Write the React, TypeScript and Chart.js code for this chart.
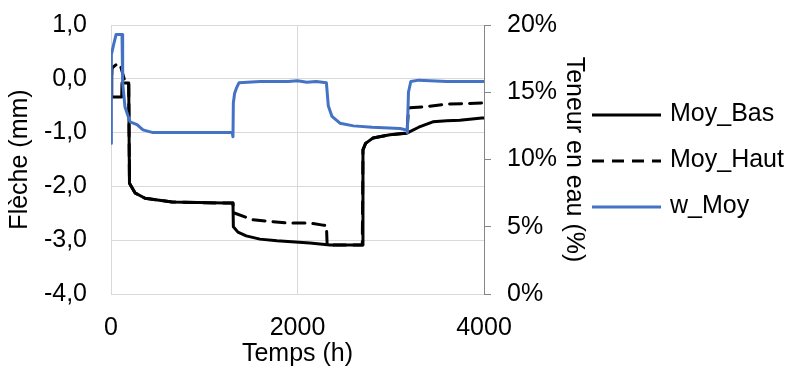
import React, { useEffect, useRef } from 'react';
import { Chart, registerables } from 'chart.js';
Chart.register(...registerables);

// ---- data ----
const seriesNames = ['Moy_Bas', 'Moy_Haut', 'w_Moy'];

const basT = [0, 8, 115, 118, 190, 196, 198, 257, 365, 654, 1222, 1308, 1312, 1361, 1450, 1597, 1780, 2133, 2348, 2500, 2695, 2702, 2730, 2810, 2991, 3173, 3300, 3452, 3600, 3741, 3977, 4000];
const basV = [0.2, -0.34, -0.34, -0.08, -0.08, -1.5, -1.94, -2.12, -2.22, -2.29, -2.31, -2.31, -2.75, -2.85, -2.92, -2.98, -3.01, -3.05, -3.09, -3.09, -3.09, -1.32, -1.2, -1.1, -1.04, -1.01, -0.9, -0.8, -0.78, -0.77, -0.73, -0.73];

const hautT = [0, 10, 60, 95, 120, 150, 190, 196, 198, 257, 365, 654, 1222, 1308, 1315, 1522, 1887, 2133, 2273, 2310, 2318, 2500, 2695, 2702, 2730, 2810, 2991, 3173, 3190, 3205, 3366, 3602, 4000];
const hautV = [-0.3, 0.2, 0.27, 0.28, 0.13, -0.05, -0.08, -1.5, -1.94, -2.12, -2.22, -2.29, -2.31, -2.31, -2.49, -2.62, -2.68, -2.68, -2.72, -2.72, -3.09, -3.09, -3.09, -1.32, -1.2, -1.1, -1.04, -1.01, -0.58, -0.54, -0.52, -0.47, -0.45];

const wT = [0, 4, 30, 55, 118, 125, 150, 204, 279, 343, 450, 1000, 1300, 1308, 1312, 1325, 1345, 1372, 1600, 1900, 2000, 2100, 2200, 2310, 2330, 2370, 2455, 2600, 2800, 3100, 3170, 3178, 3190, 3215, 3300, 3600, 4000];
const wV = [11.2, 17.8, 18.6, 19.3, 19.3, 15.7, 13.9, 12.8, 12.6, 12.2, 12.0, 12.0, 12.0, 11.7, 14.2, 14.9, 15.3, 15.7, 15.8, 15.8, 15.85, 15.75, 15.8, 15.7, 14.0, 13.2, 12.7, 12.5, 12.4, 12.3, 12.2, 12.0, 15.0, 15.8, 15.9, 15.8, 15.8];

const xTicks = [0, 2000, 4000];
const leftTicks = [-4, -3, -2, -1, 0, 1];
const rightTicks = [0, 5, 10, 15, 20];

const xTitle = 'Temps (h)';
const leftTitle = 'Flèche (mm)';
const rightTitle = 'Teneur en eau (%)';

const FONT = "'Liberation Sans', Arial, sans-serif";
const FS = 25;

const zip = (t: number[], v: number[]) => t.map((x, i) => ({ x, y: v[i] }));

const legendPlugin = {
  id: 'customLegend',
  afterDraw(chart: any) {
    const ctx = chart.ctx;
    const ds = chart.data.datasets;
    const x0 = 592, x1 = 661, tx = 670;
    const ys = [115, 161, 207];
    ctx.save();
    ds.forEach((d: any, i: number) => {
      const y = ys[i];
      ctx.beginPath();
      ctx.strokeStyle = d.borderColor;
      ctx.lineWidth = d.borderWidth;
      ctx.setLineDash(d.borderDash || []);
      ctx.lineCap = 'butt';
      ctx.moveTo(x0, y);
      ctx.lineTo(x1, y);
      ctx.stroke();
      ctx.setLineDash([]);
      ctx.fillStyle = '#000';
      ctx.font = `${FS}px ${FONT}`;
      ctx.textBaseline = 'middle';
      ctx.textAlign = 'left';
      ctx.fillText(d.label, tx, y - 1);
    });
    ctx.restore();
  },
};

const noPad = (s: any) => {
  s.paddingTop = 0;
  s.paddingBottom = 0;
  s.paddingLeft = 0;
  s.paddingRight = 0;
};

export default function App() {
  const ref = useRef<HTMLCanvasElement>(null);
  useEffect(() => {
    document.body.style.margin = '0';
    const chart = new Chart(ref.current!, {
      type: 'line',
      data: {
        datasets: [
          {
            label: seriesNames[0],
            data: zip(basT, basV),
            borderColor: '#000000',
            borderWidth: 3,
            yAxisID: 'y',
            order: 2,
          },
          {
            label: seriesNames[1],
            data: zip(hautT, hautV),
            borderColor: '#000000',
            borderWidth: 3,
            borderDash: [12, 8],
            yAxisID: 'y',
            order: 1,
          },
          {
            label: seriesNames[2],
            data: zip(wT, wV),
            borderColor: '#4472C4',
            borderWidth: 3,
            yAxisID: 'y1',
            order: 0,
          },
        ] as any,
      },
      options: {
        animation: false,
        responsive: false,
        maintainAspectRatio: false,
        elements: {
          point: { radius: 0 },
          line: { tension: 0, borderJoinStyle: 'round', borderCapStyle: 'round', fill: false },
        },
        layout: { padding: { top: 25, right: 201, left: 0, bottom: 0 } },
        plugins: { legend: { display: false }, tooltip: { enabled: false } },
        scales: {
          x: {
            type: 'linear',
            min: 0,
            max: 4000,
            afterBuildTicks: (s: any) => { s.ticks = xTicks.map((v) => ({ value: v })); },
            afterFit: (s: any) => { s.height = 75; noPad(s); },
            grid: { color: '#d9d9d9', lineWidth: 1, drawTicks: false },
            border: { display: false },
            ticks: { color: '#000', font: { family: FONT, size: FS }, padding: 19, maxRotation: 0, callback: (v: any) => String(v) },
            title: { display: true, text: xTitle, color: '#000', font: { family: FONT, size: FS }, padding: { top: 0, bottom: 0 } },
          },
          y: {
            type: 'linear',
            position: 'left',
            min: -4,
            max: 1,
            afterBuildTicks: (s: any) => { s.ticks = leftTicks.map((v) => ({ value: v })); },
            afterFit: (s: any) => { s.width = 111; noPad(s); },
            grid: { color: '#d9d9d9', lineWidth: 1, drawTicks: false },
            border: { display: false },
            ticks: { color: '#000', font: { family: FONT, size: FS }, padding: 24, callback: (v: any) => Number(v).toFixed(1).replace('.', ',') },
            title: { display: true, text: leftTitle, color: '#000', font: { family: FONT, size: FS }, padding: { top: 5, bottom: 0 } },
          },
          y1: {
            type: 'linear',
            position: 'right',
            min: 0,
            max: 20,
            afterBuildTicks: (s: any) => { s.ticks = rightTicks.map((v) => ({ value: v })); },
            afterFit: (s: any) => { s.width = 106; noPad(s); },
            grid: { display: true, drawOnChartArea: false, drawTicks: true, tickLength: 7, color: '#868686' },
            border: { display: true, color: '#868686', width: 1 },
            ticks: { color: '#000', font: { family: FONT, size: FS }, padding: 16, callback: (v: any) => `${v}%` },
            title: { display: true, text: rightTitle, color: '#000', font: { family: FONT, size: FS }, padding: { top: 1, bottom: 0 } },
          },
        },
      } as any,
      plugins: [legendPlugin],
    });
    return () => chart.destroy();
  }, []);
  return (
    <div style={{ position: 'absolute', left: 0, top: 0, width: 791, height: 369 }}>
      <canvas ref={ref} width={791} height={369} style={{ width: 791, height: 369 }} />
    </div>
  );
}
